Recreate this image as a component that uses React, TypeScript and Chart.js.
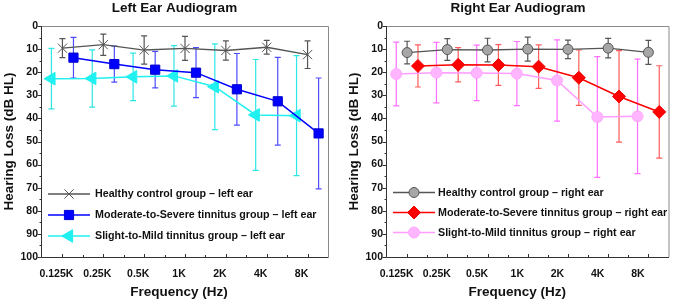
import React, { useEffect, useRef } from 'react';
import { Chart, registerables, PointElement } from 'chart.js';

Chart.register(...registerables);

// ---------- data ----------
const FREQ_LABELS = ['0.125K', '0.25K', '0.5K', '1K', '2K', '4K', '8K'];
const Y_TICK_VALUES = [0, 10, 20, 30, 40, 50, 60, 70, 80, 90, 100];
const X_TITLE = 'Frequency (Hz)';
const Y_TITLE = 'Hearing Loss (dB HL)';

const LEFT_HEALTHY = [9.6, 8.1, 10.4, 9.7, 10.6, 9.2, 12.4];
const LEFT_HEALTHY_SD = [4.1, 4.6, 6.1, 5.2, 4.2, 3.0, 6.0];
const LEFT_MODSEV = [13.7, 16.5, 18.9, 20.2, 27.4, 32.6, 46.5];
const LEFT_MODSEV_SD = [8.8, 7.8, 7.9, 10.8, 15.5, 19.0, 24.0];
const LEFT_SLIGHT = [22.8, 22.7, 22.0, 21.6, 26.3, 38.5, 38.8];
const LEFT_SLIGHT_SD = [13.1, 12.4, 10.3, 13.1, 18.6, 24.0, 26.0];

const RIGHT_HEALTHY = [11.5, 10.2, 10.4, 10.0, 10.1, 9.6, 11.4];
const RIGHT_HEALTHY_SD = [4.9, 4.7, 5.1, 5.2, 4.0, 4.2, 5.2];
const RIGHT_MODSEV = [17.3, 16.8, 16.9, 17.6, 22.4, 30.5, 37.2];
const RIGHT_MODSEV_SD = [9.1, 7.4, 8.8, 9.4, 12.0, 19.8, 20.0];
const RIGHT_SLIGHT = [20.8, 20.2, 20.3, 20.6, 23.6, 39.4, 39.1];
const RIGHT_SLIGHT_SD = [13.8, 13.1, 12.0, 13.9, 17.6, 26.1, 24.8];

const LEFT_NAMES = [
  'Healthy control group \u2013 left ear',
  'Moderate-to-Severe tinnitus group \u2013 left ear',
  'Slight-to-Mild tinnitus group \u2013 left ear',
];
const RIGHT_NAMES = [
  'Healthy control group \u2013 right ear',
  'Moderate-to-Severe tinnitus group \u2013 right ear',
  'Slight-to-Mild tinnitus group \u2013 right ear',
];

// ---------- styling ----------
const FONT = 'Arial, "Liberation Sans", Helvetica, sans-serif';
const SHIFT = 0.27; // horizontal offset of groups around each frequency

const toPoints = (vals: number[], shift: number) => vals.map((v, i) => ({ x: i + shift, y: v }));

const errorBarPlugin = {
  id: 'errorBars',
  beforeDatasetsDraw(chart: any) {
    const { ctx } = chart;
    const y = chart.scales.y;
    chart.data.datasets.forEach((ds: any, di: number) => {
      const meta = chart.getDatasetMeta(di);
      if (!ds.errorBars) return;
      ctx.save();
      ctx.strokeStyle = ds.errorColor;
      ctx.lineWidth = 1.2;
      ds.errorBars.forEach((sd: number, i: number) => {
        const el = meta.data[i];
        if (!el) return;
        const mean = ds.data[i].y;
        const px = el.x;
        const top = y.getPixelForValue(mean - sd);
        const bot = y.getPixelForValue(mean + sd);
        ctx.beginPath();
        ctx.moveTo(px, top);
        ctx.lineTo(px, bot);
        ctx.moveTo(px - 3, top);
        ctx.lineTo(px + 3, top);
        ctx.moveTo(px - 3, bot);
        ctx.lineTo(px + 3, bot);
        ctx.stroke();
      });
      ctx.restore();
    });
  },
};

const frameTicksPlugin = {
  id: 'frameTicks',
  afterDatasetsDraw(chart: any) {
    const { ctx, chartArea: a } = chart;
    const xs = chart.scales.x;
    const ys = chart.scales.y;
    ctx.save();
    ctx.lineWidth = 1;
    ctx.strokeStyle = '#8a8a8a';
    ctx.beginPath();
    ctx.moveTo(a.left, a.top + 0.5);
    ctx.lineTo(a.right + 0.5, a.top + 0.5);
    ctx.lineTo(a.right + 0.5, a.bottom);
    ctx.stroke();
    ctx.strokeStyle = '#333333';
    ctx.beginPath();
    ctx.moveTo(a.left - 0.5, a.top);
    ctx.lineTo(a.left - 0.5, a.bottom + 0.5);
    ctx.lineTo(a.right + 0.5, a.bottom + 0.5);
    ctx.stroke();
    ctx.beginPath();
    for (let v = 0; v <= FREQ_LABELS.length - 1; v += 0.5) {
      const px = Math.round(xs.getPixelForValue(v)) + 0.5;
      const len = Number.isInteger(v) ? 3 : 2;
      ctx.moveTo(px, a.bottom);
      ctx.lineTo(px, a.bottom - len);
    }
    for (let v = 0; v <= 100; v += 5) {
      const py = Math.round(ys.getPixelForValue(v)) + 0.5;
      const len = v % 10 === 0 ? 4 : 2;
      ctx.moveTo(a.left - 0.5, py);
      ctx.lineTo(a.left - 0.5 - len, py);
    }
    ctx.stroke();
    ctx.restore();
  },
};

// chart title and x-axis title (both sit slightly left of the plot centre in the reference)
const titlesPlugin = {
  id: 'titles',
  afterDraw(chart: any) {
    const opts = chart.options.plugins.titles;
    if (!opts) return;
    const { ctx, chartArea: a } = chart;
    ctx.save();
    ctx.fillStyle = '#111111';
    ctx.font = `bold 13.5px ${FONT}`;
    ctx.textAlign = 'center';
    ctx.textBaseline = 'middle';
    ctx.fillText(opts.text, opts.titleX, opts.titleY);
    ctx.fillText(X_TITLE, (a.left + a.right) / 2 + opts.xTitleShift, opts.xTitleY);
    ctx.restore();
  },
};

const legendPlugin = {
  id: 'innerLegend',
  afterDraw(chart: any) {
    const opts = chart.options.plugins.innerLegend;
    if (!opts) return;
    const { ctx, chartArea: a } = chart;
    ctx.save();
    chart.data.datasets.forEach((ds: any, i: number) => {
      const yy = a.top + opts.top + i * opts.spacing;
      const x0 = a.left + 6;
      const x1 = a.left + 48;
      ctx.strokeStyle = ds.borderColor;
      ctx.lineWidth = 1.5;
      ctx.beginPath();
      ctx.moveTo(x0, yy);
      ctx.lineTo(x1, yy);
      ctx.stroke();
      const p: any = new PointElement({});
      p.x = a.left + 27;
      p.y = yy;
      p.options = {
        pointStyle: ds.pointStyle,
        radius: ds.pointRadius,
        rotation: ds.pointRotation || 0,
        borderWidth: ds.pointBorderWidth,
        backgroundColor: ds.pointBackgroundColor,
        borderColor: ds.pointBorderColor,
      };
      p.draw(ctx);
      ctx.fillStyle = '#111111';
      ctx.font = `bold 10.7px ${FONT}`;
      ctx.textBaseline = 'middle';
      ctx.textAlign = 'left';
      ctx.fillText(ds.label, a.left + opts.textX, yy + 0.5);
    });
    ctx.restore();
  },
};

type Side = {
  title: string;
  titleX: number;
  datasets: any[];
  yWidth: number;
  yTitlePad: number;
  padRight: number;
  labelOffset: number;
  legendTop: number;
  legendSpacing: number;
  textX: number;
};

function makeConfig(side: Side): any {
  return {
    type: 'line',
    data: { datasets: side.datasets },
    plugins: [errorBarPlugin, frameTicksPlugin, titlesPlugin, legendPlugin],
    options: {
      responsive: false,
      animation: false,
      layout: { padding: { left: 0, right: side.padRight, top: 26, bottom: 0 } },
      plugins: {
        legend: { display: false },
        tooltip: { enabled: false },
        title: { display: false },
        titles: {
          text: side.title,
          titleX: side.titleX,
          titleY: 8.5,
          xTitleShift: side.labelOffset,
          xTitleY: 292.5,
        },
        innerLegend: { top: side.legendTop, spacing: side.legendSpacing, textX: side.textX },
      },
      scales: {
        x: {
          type: 'linear',
          min: -0.5,
          max: FREQ_LABELS.length - 0.5,
          afterBuildTicks: (s: any) => {
            s.ticks = FREQ_LABELS.map((_, i) => ({ value: i }));
          },
          afterFit: (s: any) => {
            s.height = 46;
          },
          ticks: {
            callback: (v: any) => FREQ_LABELS[Math.round(v)] ?? '',
            color: '#111111',
            font: { family: FONT, size: 10.5, weight: 'bold' },
            padding: 10.5,
            labelOffset: side.labelOffset,
            maxRotation: 0,
            autoSkip: false,
          },
          grid: { display: false, drawTicks: false },
          border: { display: false },
          title: { display: false },
        },
        y: {
          type: 'linear',
          reverse: true,
          min: 0,
          max: 100,
          afterBuildTicks: (s: any) => {
            s.ticks = Y_TICK_VALUES.map((v) => ({ value: v }));
          },
          afterFit: (s: any) => {
            s.width = side.yWidth;
          },
          ticks: {
            color: '#111111',
            font: { family: FONT, size: 10.5, weight: 'bold' },
            padding: 4,
          },
          grid: { display: false, drawTicks: false },
          border: { display: false },
          title: {
            display: true,
            text: Y_TITLE,
            color: '#111111',
            font: { family: FONT, size: 13.5, weight: 'bold' },
            padding: { top: side.yTitlePad, bottom: 0 },
          },
        },
      },
    },
  };
}

const leftSide: Side = {
  title: 'Left Ear Audiogram',
  titleX: 174.5,
  yWidth: 42,
  yTitlePad: 1,
  padRight: 10,
  labelOffset: -6,
  legendTop: 168,
  legendSpacing: 21,
  textX: 53,
  datasets: [
    {
      label: LEFT_NAMES[0],
      data: toPoints(LEFT_HEALTHY, 0),
      errorBars: LEFT_HEALTHY_SD,
      errorColor: '#555555',
      borderColor: '#555555',
      borderWidth: 1.3,
      pointStyle: 'crossRot',
      pointRadius: 6.5,
      pointBorderWidth: 1,
      pointBackgroundColor: '#555555',
      pointBorderColor: '#555555',
    },
    {
      label: LEFT_NAMES[1],
      data: toPoints(LEFT_MODSEV, SHIFT),
      errorBars: LEFT_MODSEV_SD,
      errorColor: '#4d4dff',
      borderColor: '#0000ff',
      borderWidth: 1.5,
      pointStyle: 'rect',
      pointRadius: 6.5,
      pointBorderWidth: 1,
      pointBackgroundColor: '#0000ff',
      pointBorderColor: '#0000cc',
    },
    {
      label: LEFT_NAMES[2],
      data: toPoints(LEFT_SLIGHT, -SHIFT),
      errorBars: LEFT_SLIGHT_SD,
      errorColor: '#2ee6e6',
      borderColor: '#1ff0f0',
      borderWidth: 1.5,
      pointStyle: 'triangle',
      pointRotation: -90,
      pointRadius: 7.3,
      pointBorderWidth: 1,
      pointBackgroundColor: '#1ff0f0',
      pointBorderColor: '#1ff0f0',
    },
  ],
};

const rightSide: Side = {
  title: 'Right Ear Audiogram',
  titleX: 180,
  yWidth: 49,
  yTitlePad: 8.6,
  padRight: 5,
  labelOffset: -10.5,
  legendTop: 166.5,
  legendSpacing: 20,
  textX: 51,
  datasets: [
    {
      label: RIGHT_NAMES[0],
      data: toPoints(RIGHT_HEALTHY, 0),
      errorBars: RIGHT_HEALTHY_SD,
      errorColor: '#555555',
      borderColor: '#555555',
      borderWidth: 1.3,
      pointStyle: 'circle',
      pointRadius: 5,
      pointBorderWidth: 1,
      pointBackgroundColor: '#a6a6a6',
      pointBorderColor: '#555555',
    },
    {
      label: RIGHT_NAMES[1],
      data: toPoints(RIGHT_MODSEV, SHIFT),
      errorBars: RIGHT_MODSEV_SD,
      errorColor: '#ff5c5c',
      borderColor: '#ff0000',
      borderWidth: 1.5,
      pointStyle: 'rectRot',
      pointRadius: 6.5,
      pointBorderWidth: 1,
      pointBackgroundColor: '#ff0000',
      pointBorderColor: '#ee0000',
    },
    {
      label: RIGHT_NAMES[2],
      data: toPoints(RIGHT_SLIGHT, -SHIFT),
      errorBars: RIGHT_SLIGHT_SD,
      errorColor: '#ff6eff',
      borderColor: '#ff9cff',
      borderWidth: 1.5,
      pointStyle: 'circle',
      pointRadius: 5.5,
      pointBorderWidth: 1,
      pointBackgroundColor: '#ffb5ff',
      pointBorderColor: '#ffaaff',
    },
  ],
};

function Audiogram({ side }: { side: Side }) {
  const ref = useRef<HTMLCanvasElement | null>(null);
  useEffect(() => {
    if (!ref.current) return;
    const chart = new Chart(ref.current, makeConfig(side));
    return () => chart.destroy();
  }, [side]);
  return <canvas ref={ref} width={338} height={303} style={{ display: 'block', width: 338, height: 303 }} />;
}

export default function App() {
  useEffect(() => {
    document.body.style.margin = '0';
  }, []);
  return (
    <div style={{ display: 'flex', width: 676, height: 303, background: '#ffffff' }}>
      <Audiogram side={leftSide} />
      <Audiogram side={rightSide} />
    </div>
  );
}
